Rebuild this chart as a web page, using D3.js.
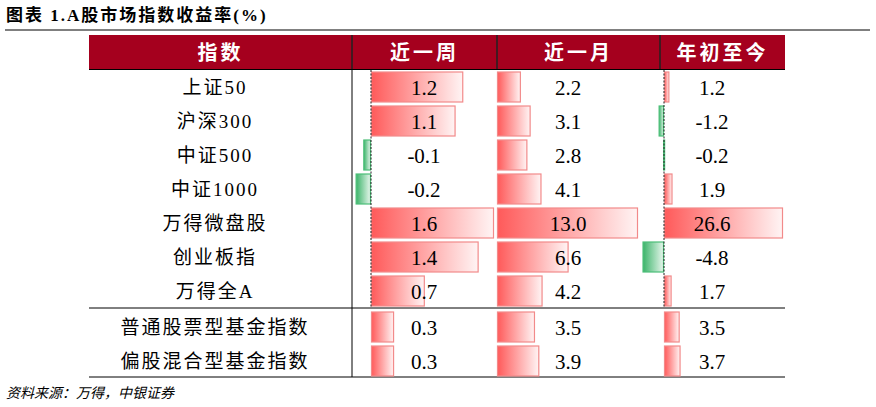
<!DOCTYPE html>
<html><head><meta charset="utf-8">
<script src="https://cdn.jsdelivr.net/npm/d3@7"></script>
<style>body{margin:0;background:#fff}</style>
</head><body><div id="chart"></div>
<script>
const names = ['上证50','沪深300','中证500','中证1000','万得微盘股','创业板指','万得全A','普通股票型基金指数','偏股混合型基金指数'];
const week = [1.2,1.1,-0.1,-0.2,1.6,1.4,0.7,0.3,0.3];
const month = [2.2,3.1,2.8,4.1,13.0,6.6,4.2,3.5,3.9];
const ytd = [1.2,-1.2,-0.2,1.9,26.6,-4.8,1.7,3.5,3.7];
const headers = ['指数','近一周','近一月','年初至今'];

const W = 876, H = 407;
const svg = d3.select('#chart').append('svg').attr('width', W).attr('height', H);
const font = '"Liberation Serif","Noto Sans CJK SC",serif';

const defs = svg.append('defs');
const gr = defs.append('linearGradient').attr('id','red');
gr.append('stop').attr('offset','0%').attr('stop-color','#ff5a5a');
gr.append('stop').attr('offset','100%').attr('stop-color','#fff4f4');
const gg = defs.append('linearGradient').attr('id','green');
gg.append('stop').attr('offset','0%').attr('stop-color','#3cb46a');
gg.append('stop').attr('offset','100%').attr('stop-color','#e6f6ec');

svg.append('text').attr('x', 6).attr('y', 21).attr('font-family', font).attr('letter-spacing', 2)
  .attr('font-size', 17).attr('font-weight', 'bold').text('图表 1.A股市场指数收益率(%)');
svg.append('line').attr('x1', 5).attr('x2', 870).attr('y1', 30).attr('y2', 30).attr('stroke', '#000');

const cols = [[89,352],[352,497],[497,660],[660,785]];
svg.append('rect').attr('x', 89).attr('y', 35).attr('width', 696).attr('height', 34).attr('fill', '#a5001e');
headers.forEach((h, i) => svg.append('text').attr('x', (cols[i][0]+cols[i][1])/2).attr('y', 60)
  .attr('text-anchor','middle').attr('fill','#fff').attr('font-size', 20).attr('font-family', font)
  .attr('font-weight','bold').attr('letter-spacing', 3).text(h));
[352, 497, 660].forEach(x => svg.append('line').attr('x1', x).attr('x2', x).attr('y1', 35).attr('y2', 69)
  .attr('stroke', '#222').attr('stroke-width', 1.5));
svg.append('line').attr('x1', 89).attr('x2', 785).attr('y1', 69.5).attr('y2', 69.5).attr('stroke', '#000');

const rowY = i => 70 + i*34 + (i >= 7 ? 2 : 0);
const rowH = 34;
svg.append('line').attr('x1', 89).attr('x2', 785).attr('y1', 308).attr('y2', 308).attr('stroke', '#000');
svg.append('line').attr('x1', 89).attr('x2', 785).attr('y1', 377).attr('y2', 377).attr('stroke', '#000');
svg.append('line').attr('x1', 352).attr('x2', 352).attr('y1', 69).attr('y2', 377).attr('stroke', '#000');

const xW = d3.scaleLinear().domain([0, 1.6]).range([371, 494]);
const xM = d3.scaleLinear().domain([0, 13]).range([497, 638]);
const xY = d3.scaleLinear().domain([0, 26.6]).range([664, 783]);
const sets = [[week, xW, 424], [month, xM, 568], [ytd, xY, 712]];

sets.forEach(([vals, x, cx]) => {
  const g = svg.append('g');
  g.selectAll('rect').data(vals).join('rect')
    .attr('x', d => Math.min(x(0), x(d)) + 0.5)
    .attr('y', (d, i) => rowY(i) + 2)
    .attr('width', d => Math.max(1, Math.abs(x(d) - x(0)) - 1))
    .attr('height', rowH - 4)
    .attr('fill', d => d >= 0 ? 'url(#red)' : 'url(#green)')
    .attr('stroke', d => d >= 0 ? '#f28a8a' : '#4cbf78').attr('stroke-width', 1.2);
  if (x !== xM) g.append('line').attr('x1', x(0)).attr('x2', x(0)).attr('y1', 70).attr('y2', 307)
    .attr('stroke', '#222').attr('stroke-dasharray', '2,1.5');
  g.selectAll('text').data(vals).join('text')
    .attr('x', cx).attr('y', (d, i) => rowY(i) + 25).attr('text-anchor', 'middle')
    .attr('font-family', font).attr('font-size', 21).text(d => d.toFixed(1));
});

svg.selectAll('text.name').data(names).join('text').attr('class','name')
  .attr('x', 215).attr('y', (d, i) => rowY(i) + 24).attr('text-anchor', 'middle')
  .attr('font-family', font).attr('font-size', 19).attr('letter-spacing', 2).text(d => d);

svg.append('text').attr('x', 6).attr('y', 398).attr('font-family', font).attr('font-size', 14)
  .attr('font-style', 'italic').text('资料来源：万得，中银证券');
</script></body></html>
